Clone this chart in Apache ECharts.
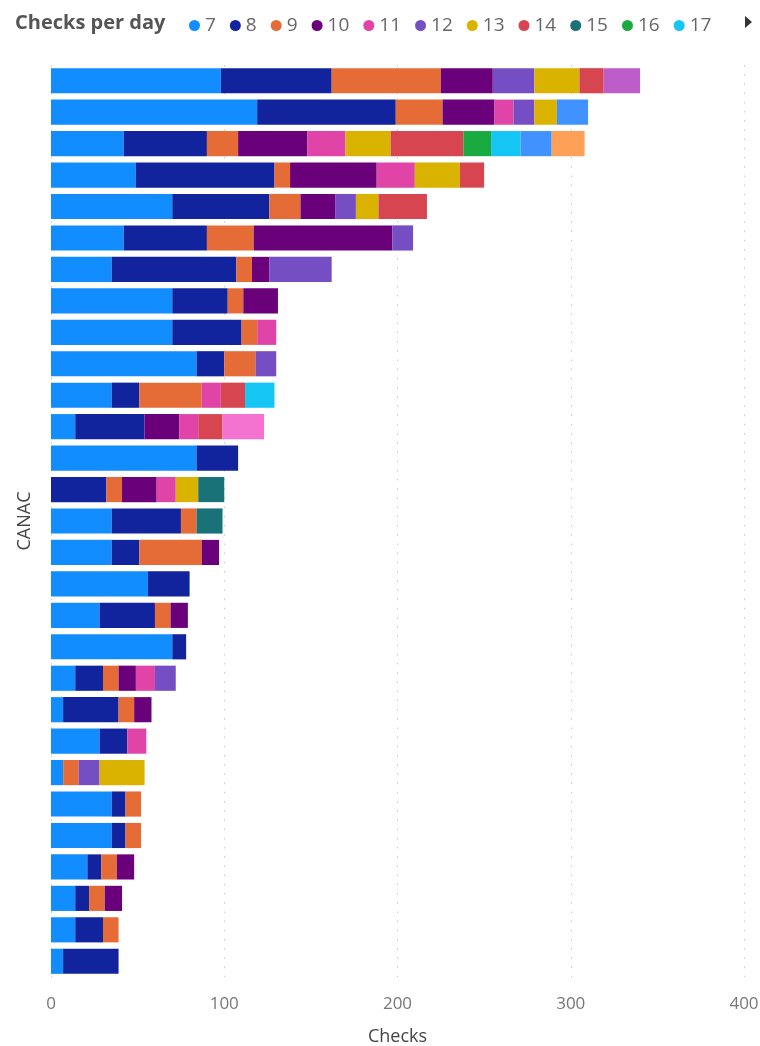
<!DOCTYPE html>
<html>
<head>
<meta charset="utf-8">
<title>Checks per day by CANAC</title>
<script src="https://cdn.jsdelivr.net/npm/echarts@6/dist/echarts.min.js"></script>
<style>
  html, body { margin: 0; padding: 0; background: #fff; }
  #chart { width: 760px; height: 1046px; }
</style>
</head>
<body>
<div id="chart"></div>
<script>
// One row per CANAC, top to bottom (names are not drawn on the axis)
const categories = [
  'R01','R02','R03','R04','R05','R06','R07','R08','R09','R10',
  'R11','R12','R13','R14','R15','R16','R17','R18','R19','R20',
  'R21','R22','R23','R24','R25','R26','R27','R28','R29'
];

// Checks contributed by days with a given number of checks
const s7  = [98,119,42,49,70,42,35,70,70,84,35,14,84,null,35,35,56,28,70,14,7,28,7,35,35,21,14,14,7];
const s8  = [64,80,48,80,56,48,72,32,40,16,16,40,24,32,40,16,24,32,8,16,32,16,null,8,8,8,8,16,32];
const s9  = [63,27,18,9,18,27,9,9,9,18,36,null,null,9,9,36,null,9,null,9,9,null,9,9,9,9,9,9,null];
const s10 = [30,30,40,50,20,80,10,20,null,null,null,20,null,20,null,10,null,10,null,10,10,null,null,null,null,10,10,null,null];
const s11 = [null,11,22,22,null,null,null,null,11,null,11,11,null,11,null,null,null,null,null,11,null,11,null,null,null,null,null,null,null];
const s12 = [24,12,null,null,12,12,36,null,null,12,null,null,null,null,null,null,null,null,null,12,null,null,12,null,null,null,null,null,null];
const s13 = [26,13,26,26,13,null,null,null,null,null,null,null,null,13,null,null,null,null,null,null,null,null,26,null,null,null,null,null,null];
const s14 = [14,null,42,14,28,null,null,null,null,null,14,14,null,null,null,null,null,null,null,null,null,null,null,null,null,null,null,null,null];
const s15 = [null,null,null,null,null,null,null,null,null,null,null,null,null,15,15,null,null,null,null,null,null,null,null,null,null,null,null,null,null];
const s16 = [null,null,16,null,null,null,null,null,null,null,null,null,null,null,null,null,null,null,null,null,null,null,null,null,null,null,null,null,null];
const s17 = [null,null,17,null,null,null,null,null,null,null,17,null,null,null,null,null,null,null,null,null,null,null,null,null,null,null,null,null,null];
const s18 = [null,18,18,null,null,null,null,null,null,null,null,null,null,null,null,null,null,null,null,null,null,null,null,null,null,null,null,null,null];
const s19 = [null,null,19,null,null,null,null,null,null,null,null,null,null,null,null,null,null,null,null,null,null,null,null,null,null,null,null,null,null];
const s21 = [21,null,null,null,null,null,null,null,null,null,null,null,null,null,null,null,null,null,null,null,null,null,null,null,null,null,null,null,null];
const s24 = [null,null,null,null,null,null,null,null,null,null,null,24,null,null,null,null,null,null,null,null,null,null,null,null,null,null,null,null,null];

const seriesNames  = ['7','8','9','10','11','12','13','14','15','16','17','18','19','21','24'];
const seriesValues = [s7,s8,s9,s10,s11,s12,s13,s14,s15,s16,s17,s18,s19,s21,s24];
const palette = ['#118DFF','#12239E','#E66C37','#6B007B','#E044A7','#744EC2','#D9B300',
                 '#D64550','#197278','#1AAB40','#15C6F4','#4092FF','#FFA058','#BE5DC9','#F472D0'];
const legendNames = seriesNames.slice(0, 11);
const xTicks = [0, 100, 200, 300, 400];

const font = '"Open Sans", "Noto Sans", sans-serif';
const chart = echarts.init(document.getElementById('chart'), null, { renderer: 'canvas' });

chart.setOption({
  animation: false,
  color: palette,
  textStyle: { fontFamily: font },
  title: {
    text: 'Checks per day',
    left: 10, top: 8,
    textStyle: { fontFamily: font, fontSize: 20, fontWeight: 'bold', color: '#555' }
  },
  legend: {
    data: legendNames,
    left: 184, top: 11,
    icon: 'circle',
    itemWidth: 11, itemHeight: 11, itemGap: 14,
    textStyle: { fontFamily: font, fontSize: 19, color: '#666' }
  },
  graphic: [{
    type: 'polygon',
    shape: { points: [[745, 16], [752, 22], [745, 28]] },
    style: { fill: '#333' }
  }],
  grid: { left: 51, right: 16, top: 65, bottom: 69, containLabel: false, outerBoundsMode: 'none' },
  xAxis: {
    type: 'value',
    min: xTicks[0], max: xTicks[xTicks.length - 1], interval: 100,
    axisLine: { show: false },
    axisTick: { show: false },
    axisLabel: { color: '#777', fontSize: 17, margin: 19, fontFamily: font },
    splitLine: { show: true, lineStyle: { color: '#c8c8c8', width: 1, type: [1.5, 7.7] } },
    name: 'Checks',
    nameLocation: 'middle',
    nameGap: 51,
    nameTextStyle: { color: '#444', fontSize: 18, fontFamily: font }
  },
  yAxis: {
    type: 'category',
    data: categories,
    inverse: true,
    axisLine: { show: false },
    axisTick: { show: false },
    axisLabel: { show: false },
    splitLine: { show: false },
    name: 'CANAC',
    nameLocation: 'middle',
    nameRotate: 90,
    nameGap: 17,
    nameTextStyle: { color: '#444', fontSize: 18, fontFamily: font }
  },
  series: seriesNames.map((name, i) => ({
    name: name,
    type: 'bar',
    stack: 'checks',
    barCategoryGap: '20%',
    data: seriesValues[i],
    itemStyle: { color: palette[i] },
    emphasis: { disabled: true }
  }))
});
</script>
</body>
</html>
